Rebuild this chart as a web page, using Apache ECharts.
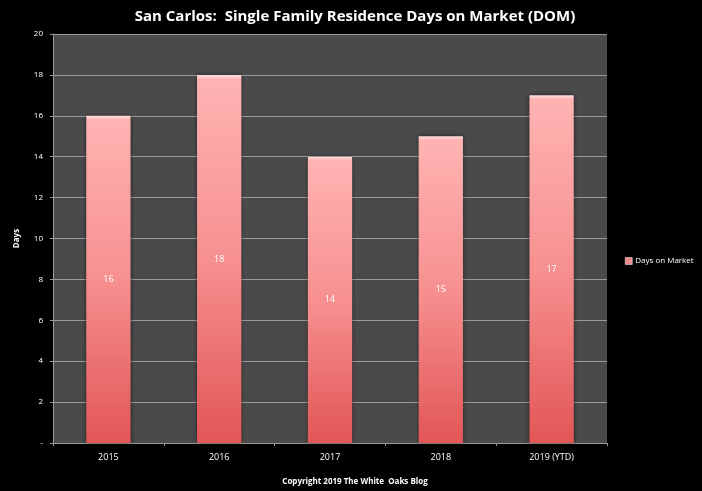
<!DOCTYPE html>
<html>
<head>
<meta charset="utf-8">
<script src="https://cdn.jsdelivr.net/npm/echarts@6/dist/echarts.min.js"></script>
<style>
  html, body { margin: 0; padding: 0; background: #000; }
  #chart { width: 702px; height: 491px; }
</style>
</head>
<body>
<div id="chart"></div>
<script>
var years = ['2015', '2016', '2017', '2018', '2019 (YTD)'];
var dom = [16, 18, 14, 15, 17];
var yTicks = [0, 2, 4, 6, 8, 10, 12, 14, 16, 18, 20];

var chart = echarts.init(document.getElementById('chart'));
var font = '"Open Sans", "Liberation Sans", sans-serif';

var option = {
  backgroundColor: '#000',
  textStyle: { fontFamily: font },
  title: [{
    text: 'San Carlos:  Single Family Residence Days on Market (DOM)',
    left: 350, top: 4, textAlign: 'center',
    textStyle: { color: '#fff', fontSize: 15, fontWeight: 'bold', fontFamily: font }
  }, {
    text: 'Copyright 2019 The White  Oaks Blog',
    left: 350, top: 473, textAlign: 'center',
    textStyle: { color: '#fff', fontSize: 8, fontWeight: 'bold', fontFamily: font }
  }],
  legend: {
    data: ['Days on Market'],
    left: 620, top: 252,
    itemWidth: 7, itemHeight: 7, itemGap: 4,
    icon: 'rect',
    itemStyle: { color: '#f08a8a', borderColor: '#fff', borderWidth: 0.5 },
    textStyle: { color: '#fff', fontSize: 8, fontFamily: font, padding: [0, 0, 0, -2] }
  },
  grid: {
    left: 53, right: 95, top: 34, bottom: 48,
    show: true, backgroundColor: '#4a4a4a', borderWidth: 0
  },
  xAxis: {
    type: 'category',
    data: years,
    axisLine: { lineStyle: { color: '#999' } },
    axisTick: { show: true, lineStyle: { color: '#999' }, length: 3 },
    axisLabel: { color: '#fff', fontSize: 9, margin: 10 }
  },
  yAxis: {
    type: 'value',
    min: 0, max: 20, interval: 2,
    name: 'Days',
    nameLocation: 'middle',
    nameGap: 32,
    nameTextStyle: { color: '#fff', fontSize: 8, fontWeight: 'bold' },
    axisLine: { show: true, lineStyle: { color: '#999' } },
    axisTick: { show: true, lineStyle: { color: '#999' }, length: 3 },
    axisLabel: {
      color: '#fff', fontSize: 8, margin: 10,
      formatter: function (v) { return yTicks.indexOf(v) === 0 ? '-' : String(v); }
    },
    splitLine: { lineStyle: { color: '#9a9a9a', width: 1 } }
  },
  series: [{
    name: 'Days on Market',
    type: 'bar',
    data: dom,
    barWidth: '40%',
    itemStyle: {
      color: new echarts.graphic.LinearGradient(0, 0, 0, 1, [
        { offset: 0, color: '#ffe0e0' },
        { offset: 0.012, color: '#ffb3b3' },
        { offset: 0.5, color: '#f79090' },
        { offset: 1, color: '#e25656' }
      ]),
      shadowColor: 'rgba(0,0,0,0.55)',
      shadowBlur: 4
    },
    label: {
      show: true, position: 'inside',
      color: '#fff', fontSize: 9
    }
  }]
};
chart.setOption(option);
</script>
</body>
</html>
